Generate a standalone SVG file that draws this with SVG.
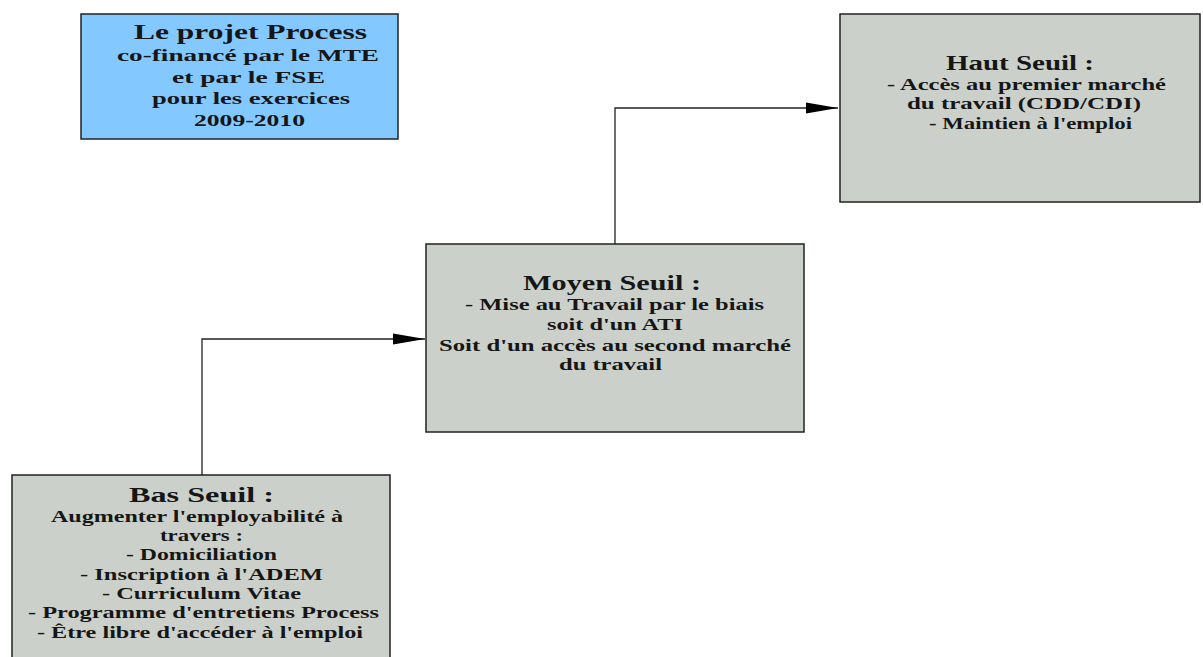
<svg xmlns="http://www.w3.org/2000/svg" width="1203" height="657" viewBox="0 0 1203 657">
<style>
.box{stroke:#222;stroke-width:1.5}
.gray{fill:#cbd1ca}
.blue{fill:#83c9ff}
text{font-family:"Liberation Serif","Times New Roman",serif;font-weight:bold;fill:#161616}
.t{font-size:22px}
.b{font-size:16px}
.conn{fill:none;stroke:#222;stroke-width:1.3}
</style>
<defs>
<marker id="arr" markerUnits="userSpaceOnUse" markerWidth="34" markerHeight="14" refX="32" refY="7" orient="auto">
<path d="M0,1.5 L32,7 L0,12.5 Z" fill="#000"/>
</marker>
</defs>
<rect width="1203" height="657" fill="#fff"/>
<g id="connectors">
<path class="conn" d="M202,475 V339 H425" marker-end="url(#arr)"/>
<path class="conn" d="M615,244 V108 H838" marker-end="url(#arr)"/>
</g>
<g id="projet">
<rect class="box blue" x="81" y="14" width="317" height="125"/>
<text x="134" y="39" style="font-size:20px" textLength="233" lengthAdjust="spacingAndGlyphs">Le projet Process</text>
<text x="117" y="61" style="font-size:17px" textLength="262" lengthAdjust="spacingAndGlyphs">co-financé par le MTE</text>
<text x="172" y="83" style="font-size:17px" textLength="153" lengthAdjust="spacingAndGlyphs">et par le FSE</text>
<text x="152" y="104" style="font-size:17px" textLength="198" lengthAdjust="spacingAndGlyphs">pour les exercices</text>
<text x="194" y="126" style="font-size:17px" textLength="111" lengthAdjust="spacingAndGlyphs">2009-2010</text>
</g>
<g id="haut">
<rect class="box gray" x="840" y="14" width="360" height="188"/>
<text class="t" x="946" y="70" textLength="148" lengthAdjust="spacingAndGlyphs">Haut Seuil :</text>
<text class="b" x="887" y="90" textLength="279" lengthAdjust="spacingAndGlyphs">- Accès au premier marché</text>
<text class="b" x="907" y="109" textLength="234" lengthAdjust="spacingAndGlyphs">du travail (CDD/CDI)</text>
<text class="b" x="929" y="129" textLength="203" lengthAdjust="spacingAndGlyphs">- Maintien à l'emploi</text>
</g>
<g id="moyen">
<rect class="box gray" x="426" y="244" width="378" height="188"/>
<text class="t" x="523" y="290" textLength="178" lengthAdjust="spacingAndGlyphs">Moyen Seuil :</text>
<text class="b" x="465" y="310" textLength="299" lengthAdjust="spacingAndGlyphs">- Mise au Travail par le biais</text>
<text class="b" x="547" y="330" textLength="136" lengthAdjust="spacingAndGlyphs">soit d'un ATI</text>
<text class="b" x="439" y="351" textLength="352" lengthAdjust="spacingAndGlyphs">Soit d'un accès au second marché</text>
<text class="b" x="559" y="370" textLength="103" lengthAdjust="spacingAndGlyphs">du travail</text>
</g>
<g id="bas">
<rect class="box gray" x="12" y="475" width="378" height="190"/>
<text class="t" x="129" y="502" textLength="145" lengthAdjust="spacingAndGlyphs">Bas Seuil :</text>
<text class="b" x="51" y="522" textLength="292" lengthAdjust="spacingAndGlyphs">Augmenter l'employabilité à</text>
<text class="b" x="160" y="541" textLength="83" lengthAdjust="spacingAndGlyphs">travers :</text>
<text class="b" x="126" y="560" textLength="151" lengthAdjust="spacingAndGlyphs">- Domiciliation</text>
<text class="b" x="80" y="580" textLength="243" lengthAdjust="spacingAndGlyphs">- Inscription à l'ADEM</text>
<text class="b" x="102" y="599" textLength="199" lengthAdjust="spacingAndGlyphs">- Curriculum Vitae</text>
<text class="b" x="28" y="618" textLength="351" lengthAdjust="spacingAndGlyphs">- Programme d'entretiens Process</text>
<text class="b" x="37" y="638" textLength="326" lengthAdjust="spacingAndGlyphs">- Être libre d'accéder à l'emploi</text>
</g>
</svg>
